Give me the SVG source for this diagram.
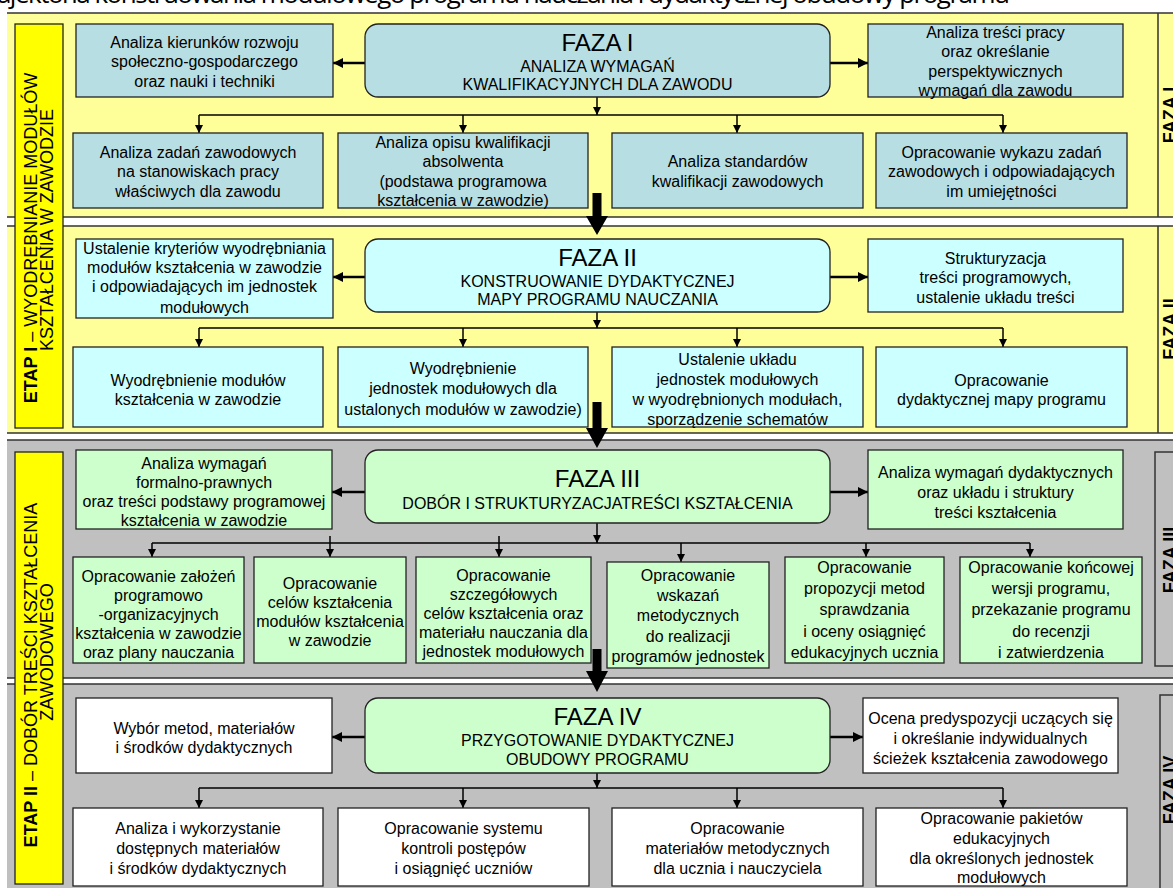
<svg xmlns="http://www.w3.org/2000/svg" width="1173" height="888" viewBox="0 0 1173 888">
<defs>
<marker id="ah" markerWidth="8" markerHeight="8" refX="8" refY="4" orient="auto" markerUnits="userSpaceOnUse"><path d="M0,0 L8,4 L0,8 z" fill="#000"/></marker>
<marker id="ahb" markerWidth="10" markerHeight="10" refX="10" refY="5" orient="auto" markerUnits="userSpaceOnUse"><path d="M0,0 L10,5 L0,10 z" fill="#000"/></marker>
</defs>
<style>
.t{font-family:"Liberation Sans",Arial,sans-serif;font-size:16px;text-anchor:middle;fill:#000}
.h{font-size:24px}
.lb{font-family:"Liberation Sans",Arial,sans-serif;font-size:18px;text-anchor:middle;fill:#000}
.fz{font-family:"Liberation Sans",Arial,sans-serif;font-size:18px;font-weight:bold;text-anchor:middle;fill:#000}
.bx{stroke:#222;stroke-width:1.3}
.c1{fill:#B7DEE2}
.c2{fill:#CCFFFF}
.c3{fill:#CCFFCC}
.c4{fill:#FFFFFF}
.bl{stroke:#333;stroke-width:1.5;fill:none}
.cn{stroke:#000;stroke-width:1.5;fill:none}
.sa{stroke:#000;stroke-width:2.5;fill:none}
.big{fill:#000}
</style>

<text x="-25" y="3" font-family="'Open Sans','Liberation Sans',sans-serif" font-size="26" textLength="1035" lengthAdjust="spacing" fill="#000">Trajektoria konstruowania modułowego programu nauczania i dydaktycznej obudowy programu</text>

<g id="bands">
<rect x="7" y="13" width="1166" height="204" fill="#FFFF99"/>
<rect x="7" y="226" width="1166" height="207" fill="#FFFF99"/>
<rect x="7" y="440" width="1166" height="238" fill="#C0C0C0"/>
<rect x="7" y="684" width="1166" height="204" fill="#C0C0C0"/>
<path class="bl" d="M7,13 H1173 M7,217 H1173 M7,226 H1173 M7,433 H1173 M7,440 H1173 M7,678 H1173 M7,684 H1173"/>
<path class="bl" d="M1158,13 V217 M1158,226 V433"/>
<rect class="bl" x="1155" y="452" width="30" height="214"/>
<rect class="bl" x="1160" y="695" width="30" height="210"/>
</g>

<g id="etap1">
<rect class="bx" x="15" y="24" width="48" height="404" fill="#FFFF00"/>
<text class="lb" transform="translate(37,238) rotate(-90)"><tspan font-weight="bold">ETAP I</tspan> – WYODRĘBNIANIE MODUŁÓW</text>
<text class="lb" transform="translate(53,230) rotate(-90)">KSZTAŁCENIA W ZAWODZIE</text>
</g>
<g id="etap2">
<rect class="bx" x="15" y="452" width="48" height="432" fill="#FFFF00"/>
<text class="lb" transform="translate(37,675) rotate(-90)"><tspan font-weight="bold">ETAP II</tspan> – DOBÓR TREŚCI KSZTAŁCENIA</text>
<text class="lb" transform="translate(53,652) rotate(-90)">ZAWODOWEGO</text>
</g>

<g id="faza-labels">
<text class="fz" transform="translate(1176,115) rotate(-90)">FAZA I</text>
<text class="fz" transform="translate(1176,329) rotate(-90)">FAZA II</text>
<text class="fz" transform="translate(1176,560) rotate(-90)">FAZA III</text>
<text class="fz" transform="translate(1176,790) rotate(-90)">FAZA IV</text>
</g>

<g id="connectors">
<path class="sa" marker-end="url(#ahb)" d="M365,63 H333"/>
<path class="sa" marker-end="url(#ahb)" d="M830,63 H868"/>
<path class="cn" marker-end="url(#ah)" d="M597,97 V115"/>
<path class="cn" d="M199,115 H1003"/>
<path class="cn" marker-end="url(#ah)" d="M199,115 V133"/>
<path class="cn" marker-end="url(#ah)" d="M463,115 V133"/>
<path class="cn" marker-end="url(#ah)" d="M737,115 V133"/>
<path class="cn" marker-end="url(#ah)" d="M1003,115 V133"/>

<path class="sa" marker-end="url(#ahb)" d="M365,277 H333"/>
<path class="sa" marker-end="url(#ahb)" d="M830,277 H868"/>
<path class="cn" marker-end="url(#ah)" d="M597,312 V328"/>
<path class="cn" d="M199,328 H1003"/>
<path class="cn" marker-end="url(#ah)" d="M199,328 V347"/>
<path class="cn" marker-end="url(#ah)" d="M463,328 V347"/>
<path class="cn" marker-end="url(#ah)" d="M737,328 V347"/>
<path class="cn" marker-end="url(#ah)" d="M1003,328 V347"/>

<path class="sa" marker-end="url(#ahb)" d="M365,492 H332"/>
<path class="sa" marker-end="url(#ahb)" d="M830,492 H868"/>
<path class="cn" marker-end="url(#ah)" d="M597,523 V543"/>
<path class="cn" d="M152,543 H1030"/>
<path class="cn" marker-end="url(#ah)" d="M152,543 V557"/>
<path class="cn" marker-end="url(#ah)" d="M330,536 V557"/>
<path class="cn" marker-end="url(#ah)" d="M499,536 V557"/>
<path class="cn" marker-end="url(#ah)" d="M681,543 V562"/>
<path class="cn" marker-end="url(#ah)" d="M866,543 V557"/>
<path class="cn" marker-end="url(#ah)" d="M1030,543 V557"/>

<path class="sa" marker-end="url(#ahb)" d="M365,737 H332"/>
<path class="sa" marker-end="url(#ahb)" d="M830,737 H863"/>
<path class="cn" marker-end="url(#ah)" d="M597,773 V788"/>
<path class="cn" d="M199,788 H1003"/>
<path class="cn" marker-end="url(#ah)" d="M199,788 V808"/>
<path class="cn" marker-end="url(#ah)" d="M463,788 V808"/>
<path class="cn" marker-end="url(#ah)" d="M737,788 V808"/>
<path class="cn" marker-end="url(#ah)" d="M1003,788 V808"/>

<polygon class="big" points="592.5,193 601.5,193 601.5,216 608,216 597,235 586,216 592.5,216"/>
<polygon class="big" points="592.5,402 601.5,402 601.5,428 608,428 597,448 586,428 592.5,428"/>
<polygon class="big" points="592.5,649 601.5,649 601.5,671 608,671 597,692 586,671 592.5,671"/>
</g>

<!-- FAZA I -->
<g id="n-kierunki">
<rect class="bx c1" x="76" y="24" width="257" height="73"/>
<text class="t" x="204.5" y="47.5">Analiza kierunków rozwoju</text>
<text class="t" x="204.5" y="67">społeczno-gospodarczego</text>
<text class="t" x="204.5" y="86.5">oraz nauki i techniki</text>
</g>
<g id="n-faza1">
<rect class="bx c1" x="365" y="24" width="465" height="73" rx="13"/>
<text class="t h" x="597.5" y="50.5">FAZA I</text>
<text class="t" x="597.5" y="71.5">ANALIZA WYMAGAŃ</text>
<text class="t" x="597.5" y="90">KWALIFIKACYJNYCH DLA ZAWODU</text>
</g>
<g id="n-tresci-pracy">
<rect class="bx c1" x="868" y="24" width="255" height="73"/>
<text class="t" x="995.5" y="37.5">Analiza treści pracy</text>
<text class="t" x="995.5" y="57">oraz określanie</text>
<text class="t" x="995.5" y="76.5">perspektywicznych</text>
<text class="t" x="995.5" y="95.5">wymagań dla zawodu</text>
</g>
<g id="n-zadania">
<rect class="bx c1" x="73" y="133" width="250" height="75"/>
<text class="t" x="198" y="157.5">Analiza zadań zawodowych</text>
<text class="t" x="198" y="177">na stanowiskach pracy</text>
<text class="t" x="198" y="196.5">właściwych dla zawodu</text>
</g>
<g id="n-opis">
<rect class="bx c1" x="338" y="133" width="250" height="75"/>
<text class="t" x="463" y="147.5">Analiza opisu kwalifikacji</text>
<text class="t" x="463" y="167">absolwenta</text>
<text class="t" x="463" y="186.5">(podstawa programowa</text>
<text class="t" x="463" y="206">kształcenia w zawodzie)</text>
</g>
<g id="n-standardy">
<rect class="bx c1" x="612" y="133" width="251" height="75"/>
<text class="t" x="737.5" y="167">Analiza standardów</text>
<text class="t" x="737.5" y="186.5">kwalifikacji zawodowych</text>
</g>
<g id="n-wykaz">
<rect class="bx c1" x="876" y="133" width="251" height="75"/>
<text class="t" x="1001.5" y="157.5">Opracowanie wykazu zadań</text>
<text class="t" x="1001.5" y="177">zawodowych i odpowiadających</text>
<text class="t" x="1001.5" y="196.5">im umiejętności</text>
</g>

<!-- FAZA II -->
<g id="n-kryteria">
<rect class="bx c2" x="76" y="239" width="257" height="79"/>
<text class="t" x="204.5" y="254">Ustalenie kryteriów wyodrębniania</text>
<text class="t" x="204.5" y="273">modułów kształcenia w zawodzie</text>
<text class="t" x="204.5" y="292">i odpowiadających im jednostek</text>
<text class="t" x="204.5" y="313">modułowych</text>
</g>
<g id="n-faza2">
<rect class="bx c2" x="365" y="239" width="465" height="73" rx="13"/>
<text class="t h" x="597.5" y="265.5">FAZA II</text>
<text class="t" x="597.5" y="286.5">KONSTRUOWANIE DYDAKTYCZNEJ</text>
<text class="t" x="597.5" y="305">MAPY PROGRAMU NAUCZANIA</text>
</g>
<g id="n-strukturyzacja">
<rect class="bx c2" x="868" y="239" width="255" height="73"/>
<text class="t" x="995.5" y="263.5">Strukturyzacja</text>
<text class="t" x="995.5" y="283">treści programowych,</text>
<text class="t" x="995.5" y="302.5">ustalenie układu treści</text>
</g>
<g id="n-moduly">
<rect class="bx c2" x="73" y="347" width="250" height="80"/>
<text class="t" x="198" y="385.5">Wyodrębnienie modułów</text>
<text class="t" x="198" y="404.5">kształcenia w zawodzie</text>
</g>
<g id="n-jednostki">
<rect class="bx c2" x="338" y="347" width="250" height="80"/>
<text class="t" x="463" y="373.5">Wyodrębnienie</text>
<text class="t" x="463" y="394">jednostek modułowych dla</text>
<text class="t" x="463" y="414.5">ustalonych modułów w zawodzie)</text>
</g>
<g id="n-uklad">
<rect class="bx c2" x="612" y="347" width="251" height="80"/>
<text class="t" x="737.5" y="364.5">Ustalenie układu</text>
<text class="t" x="737.5" y="385">jednostek modułowych</text>
<text class="t" x="737.5" y="405">w wyodrębnionych modułach,</text>
<text class="t" x="737.5" y="424.5">sporządzenie schematów</text>
</g>
<g id="n-mapa">
<rect class="bx c2" x="876" y="347" width="251" height="80"/>
<text class="t" x="1001.5" y="385.5">Opracowanie</text>
<text class="t" x="1001.5" y="404.5">dydaktycznej mapy programu</text>
</g>

<!-- FAZA III -->
<g id="n-formalne">
<rect class="bx c3" x="76" y="450" width="256" height="79"/>
<text class="t" x="204" y="468.5">Analiza wymagań</text>
<text class="t" x="204" y="487.5">formalno-prawnych</text>
<text class="t" x="204" y="507">oraz treści podstawy programowej</text>
<text class="t" x="204" y="525.5">kształcenia w zawodzie</text>
</g>
<g id="n-faza3">
<rect class="bx c3" x="365" y="450" width="465" height="73" rx="13"/>
<text class="t h" x="597.5" y="486.5">FAZA III</text>
<text class="t" x="597.5" y="508.5">DOBÓR I STRUKTURYZACJATREŚCI KSZTAŁCENIA</text>
</g>
<g id="n-dydaktyczne">
<rect class="bx c3" x="868" y="450" width="255" height="79"/>
<text class="t" x="995.5" y="477.5">Analiza wymagań dydaktycznych</text>
<text class="t" x="995.5" y="497.5">oraz układu i struktury</text>
<text class="t" x="995.5" y="517.5">treści kształcenia</text>
</g>
<g id="n-zalozenia">
<rect class="bx c3" x="73" y="557" width="171" height="106"/>
<text class="t" x="158.5" y="581.5">Opracowanie założeń</text>
<text class="t" x="158.5" y="600.5">programowo</text>
<text class="t" x="158.5" y="619.5">-organizacyjnych</text>
<text class="t" x="158.5" y="638.5">kształcenia w zawodzie</text>
<text class="t" x="158.5" y="657.5">oraz plany nauczania</text>
</g>
<g id="n-cele">
<rect class="bx c3" x="254" y="557" width="152" height="106"/>
<text class="t" x="330" y="588.5">Opracowanie</text>
<text class="t" x="330" y="607.5">celów kształcenia</text>
<text class="t" x="330" y="627">modułów kształcenia</text>
<text class="t" x="330" y="646">w zawodzie</text>
</g>
<g id="n-szczegolowe">
<rect class="bx c3" x="416" y="557" width="175" height="106"/>
<text class="t" x="503.5" y="580.5">Opracowanie</text>
<text class="t" x="503.5" y="599.5">szczegółowych</text>
<text class="t" x="503.5" y="618.5">celów kształcenia oraz</text>
<text class="t" x="503.5" y="638">materiału nauczania dla</text>
<text class="t" x="503.5" y="657">jednostek modułowych</text>
</g>
<g id="n-wskazania">
<rect class="bx c3" x="607" y="562" width="162" height="106"/>
<text class="t" x="688" y="580.5">Opracowanie</text>
<text class="t" x="688" y="600.5">wskazań</text>
<text class="t" x="688" y="620.5">metodycznych</text>
<text class="t" x="688" y="641.5">do realizacji</text>
<text class="t" x="688" y="661.5">programów jednostek</text>
</g>
<g id="n-metody">
<rect class="bx c3" x="785" y="557" width="159" height="106"/>
<text class="t" x="864.5" y="572.5">Opracowanie</text>
<text class="t" x="864.5" y="593.5">propozycji metod</text>
<text class="t" x="864.5" y="615">sprawdzania</text>
<text class="t" x="864.5" y="636.5">i oceny osiągnięć</text>
<text class="t" x="864.5" y="657.5">edukacyjnych ucznia</text>
</g>
<g id="n-koncowa">
<rect class="bx c3" x="960" y="557" width="182" height="106"/>
<text class="t" x="1051" y="572.5">Opracowanie końcowej</text>
<text class="t" x="1051" y="593.5">wersji programu,</text>
<text class="t" x="1051" y="615">przekazanie programu</text>
<text class="t" x="1051" y="636.5">do recenzji</text>
<text class="t" x="1051" y="657.5">i zatwierdzenia</text>
</g>

<!-- FAZA IV -->
<g id="n-wybor">
<rect class="bx c4" x="76" y="698" width="256" height="75"/>
<text class="t" x="204" y="733.5">Wybór metod, materiałów</text>
<text class="t" x="204" y="752.5">i środków dydaktycznych</text>
</g>
<g id="n-faza4">
<rect class="bx c3" x="365" y="698" width="465" height="75" rx="13"/>
<text class="t h" x="597.5" y="724.5">FAZA IV</text>
<text class="t" x="597.5" y="745.5">PRZYGOTOWANIE DYDAKTYCZNEJ</text>
<text class="t" x="597.5" y="764.5">OBUDOWY PROGRAMU</text>
</g>
<g id="n-ocena">
<rect class="bx c4" x="863" y="698" width="255" height="75"/>
<text class="t" x="990.5" y="723.5">Ocena predyspozycji uczących się</text>
<text class="t" x="990.5" y="743.5">i określanie indywidualnych</text>
<text class="t" x="990.5" y="763.5">ścieżek kształcenia zawodowego</text>
</g>
<g id="n-analiza-mat">
<rect class="bx c4" x="73" y="808" width="250" height="78"/>
<text class="t" x="198" y="833.5">Analiza i wykorzystanie</text>
<text class="t" x="198" y="853.5">dostępnych materiałów</text>
<text class="t" x="198" y="873.5">i środków dydaktycznych</text>
</g>
<g id="n-kontrola">
<rect class="bx c4" x="338" y="808" width="251" height="78"/>
<text class="t" x="463.5" y="833.5">Opracowanie systemu</text>
<text class="t" x="463.5" y="853.5">kontroli postępów</text>
<text class="t" x="463.5" y="873.5">i osiągnięć uczniów</text>
</g>
<g id="n-metodyczne">
<rect class="bx c4" x="612" y="808" width="251" height="78"/>
<text class="t" x="737.5" y="833.5">Opracowanie</text>
<text class="t" x="737.5" y="853.5">materiałów metodycznych</text>
<text class="t" x="737.5" y="873.5">dla ucznia i nauczyciela</text>
</g>
<g id="n-pakiety">
<rect class="bx c4" x="876" y="808" width="251" height="78"/>
<text class="t" x="1001.5" y="823.5">Opracowanie pakietów</text>
<text class="t" x="1001.5" y="843.5">edukacyjnych</text>
<text class="t" x="1001.5" y="863.5">dla określonych jednostek</text>
<text class="t" x="1001.5" y="882.5">modułowych</text>
</g>
</svg>
